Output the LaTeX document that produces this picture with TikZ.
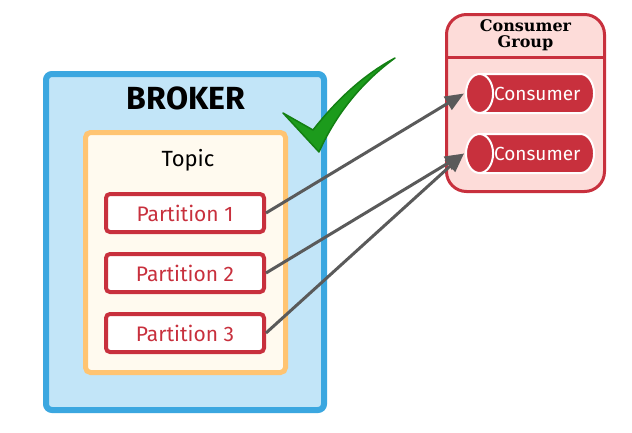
\documentclass[tikz,border=0pt]{standalone}
\usepackage{fontspec}
\setmainfont{Fira Sans}
\newfontfamily\slabfont{DejaVu Serif}
\usetikzlibrary{positioning}
\usetikzlibrary{shapes.geometric}
\usetikzlibrary{arrows.meta}
\definecolor{brokerBlue}{HTML}{3BA7E0}
\definecolor{brokerFill}{HTML}{C2E5F8}
\definecolor{topicOrange}{HTML}{FFC472}
\definecolor{topicFill}{HTML}{FFFAEF}
\definecolor{partRed}{HTML}{C8303D}
\definecolor{groupFill}{HTML}{FDDCD9}
\definecolor{arrowGray}{HTML}{5A5A5A}
\definecolor{checkGreen}{HTML}{1C9B1C}
\definecolor{checkDark}{HTML}{138013}
\tikzset{brokerbox/.style={rectangle,
                        draw=brokerBlue,
                        fill=brokerFill,
                        line width=6pt,
                        rounded corners=6pt,
                        minimum width=278pt,
                        minimum height=336pt,
                        inner sep=0pt
                        },
        topicbox/.style={rectangle,
                        draw=topicOrange,
                        fill=topicFill,
                        line width=5pt,
                        rounded corners=5pt,
                        minimum width=200pt,
                        minimum height=240pt,
                        inner sep=0pt
                        },
        partitionbox/.style={rectangle,
                        draw=partRed,
                        fill=white,
                        line width=4pt,
                        rounded corners=4pt,
                        minimum width=158pt,
                        minimum height=38pt,
                        inner sep=0pt,
                        text=partRed,
                        font=\fontsize{21}{21}\selectfont
                        },
        groupbox/.style={rectangle,
                        draw=partRed,
                        fill=groupFill,
                        line width=3pt,
                        rounded corners=20pt,
                        minimum width=158pt,
                        minimum height=177pt,
                        inner sep=0pt
                        },
        consumernode/.style={cylinder,
                        shape border rotate=180,
                        aspect=2.0,
                        draw=white,
                        fill=partRed,
                        line width=2pt,
                        minimum width=39pt,
                        minimum height=117pt,
                        inner sep=0pt,
                        text=white,
                        font=\fontsize{19}{19}\selectfont\mdseries
                        },
        feed/.style={-{Triangle[length=19pt,width=15pt]},
                        arrowGray,
                        line width=3pt
                        },
}

\begin{document}
\begin{tikzpicture}
    [x=1pt,y=-1pt]
    \useasboundingbox (0,0) rectangle (632,432);

    % BROKER
    \node[brokerbox] (broker) at (185,242) {};
    \node[font=\fontsize{32}{32}\selectfont\bfseries] (brokerTitle) at (186,98) {BROKER};

    \node[topicbox] (topic) at (185.5,252.5) {};
    \node[font=\fontsize{22}{22}\selectfont] (topicTitle) at (188,160) {Topic};

    \node[partitionbox] (partition1) at (185,213) {Partition 1};
    \node[partitionbox, below=18pt of partition1] (partition2) {Partition 2};
    \node[partitionbox, below=18pt of partition2] (partition3) {Partition 3};

    % CHECK
    \draw[fill=checkGreen, draw=checkDark, line width=1.5pt, line join=round]
        (283,113) -- (313,130) .. controls (338,98) and (365,74) .. (395,58)
        .. controls (362,82) and (336,114) .. (319,152) -- cycle;

    % CONSUMER GROUP
    \node[groupbox] (consumerGroup) at (525.5,103) {};
    \node[font=\slabfont\bfseries\fontsize{16}{16}\selectfont, align=center, inner sep=0pt] (groupTitle) at (525.5,35.5) {Consumer\\Group};
    \coordinate (groupSplit) at (525.5,57.5);
    \draw[partRed, line width=3pt] (groupSplit -| consumerGroup.west) -- (groupSplit -| consumerGroup.east);

    \node[consumernode, anchor=west] (consumer1) at (465,93.5) {Consumer};
    \node[consumernode, below=19pt of consumer1] (consumer2) {Consumer};

    \draw[feed] (partition1.east) -- ([xshift=-1pt]consumer1.west);
    \draw[feed] (partition2.east) -- ([xshift=-1pt]consumer2.west);
    \draw[feed] (partition3.east) -- ([xshift=-1pt]consumer2.west);

\end{tikzpicture}
\end{document}
